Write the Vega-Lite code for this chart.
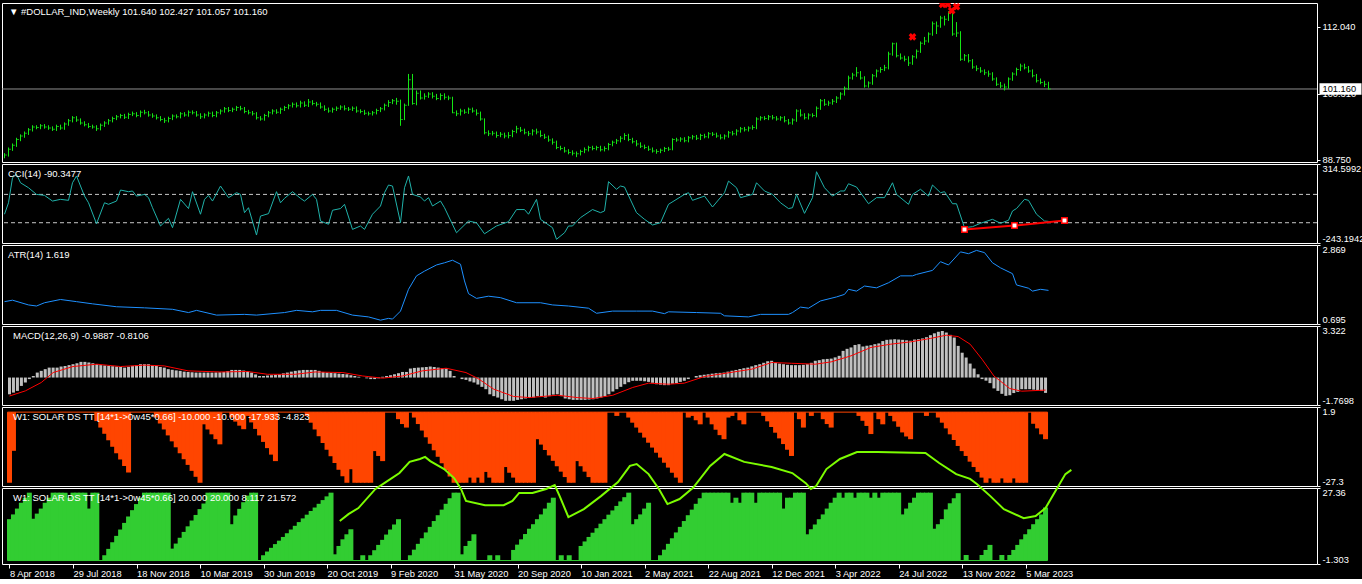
{
  "$schema": "https://vega.github.io/schema/vega-lite/v6.json",
  "background": "#000000",
  "padding": {"left": 1, "top": 2, "right": 0, "bottom": 0},
  "bounds": "flush",
  "spacing": 2,
  "config": {
    "view": {"stroke": "#ffffff", "strokeWidth": 1, "fill": "#000000"},
    "axis": {"domain": false, "grid": false, "labelColor": "#ffffff", "tickColor": "#ffffff", "labelFont": "Liberation Sans", "labelFontSize": 9.3, "tickSize": 3, "labelPadding": 2, "title": null, "labelOverlap": false},
    "text": {"font": "Liberation Sans", "fontSize": 9.5, "color": "#ffffff", "align": "left", "baseline": "middle"}
  },
  "resolve": {"scale": {"y": "independent"}, "axis": {"x": "independent", "y": "independent"}},
  "datasets": {
    "bars": [
      {"w":0,"h":89.9,"l":89.0,"c":89.6,"m":-1.08,"r":-26.1,"g":15.6},
      {"w":1,"h":90.9,"l":89.3,"c":90.6,"m":-0.97,"r":-14.3,"g":17.4},
      {"w":2,"h":91.6,"l":90.3,"c":91.3,"m":-0.86,"r":0,"g":19.6},
      {"w":3,"h":92.6,"l":91.0,"c":92.3,"m":-0.54,"r":0,"g":21.8},
      {"w":4,"h":93.2,"l":92.0,"c":92.9,"m":-0.32,"r":0,"g":23.7},
      {"w":5,"h":93.7,"l":92.6,"c":93.4,"m":-0.1,"r":0,"g":25.6},
      {"w":6,"h":94.3,"l":93.1,"c":94.0,"m":0.1,"r":0,"g":15.8},
      {"w":7,"h":94.8,"l":93.7,"c":94.5,"m":0.32,"r":0,"g":17.7},
      {"w":8,"h":94.8,"l":94.1,"c":94.4,"m":0.43,"r":0,"g":19.6},
      {"w":9,"h":95.0,"l":94.1,"c":94.7,"m":0.54,"r":0,"g":21.8},
      {"w":10,"h":95.0,"l":94.2,"c":94.5,"m":0.64,"r":0,"g":23.7},
      {"w":11,"h":94.8,"l":94.0,"c":94.3,"m":0.64,"r":0,"g":25.6},
      {"w":12,"h":94.6,"l":93.8,"c":94.1,"m":0.64,"r":0,"g":25.6},
      {"w":13,"h":94.9,"l":93.8,"c":94.6,"m":0.71,"r":0,"g":25.6},
      {"w":14,"h":94.9,"l":94.0,"c":94.3,"m":0.75,"r":0,"g":25.6},
      {"w":15,"h":95.3,"l":94.0,"c":95.0,"m":0.8,"r":0,"g":23.7},
      {"w":16,"h":95.9,"l":94.7,"c":95.6,"m":0.86,"r":0,"g":25.6},
      {"w":17,"h":96.4,"l":95.3,"c":96.1,"m":0.92,"r":0,"g":25.6},
      {"w":18,"h":96.4,"l":95.4,"c":95.7,"m":1.01,"r":0,"g":25.6},
      {"w":19,"h":96.0,"l":94.9,"c":95.2,"m":1.01,"r":0,"g":25.6},
      {"w":20,"h":95.5,"l":94.6,"c":94.9,"m":0.97,"r":0,"g":19.6},
      {"w":21,"h":95.2,"l":94.3,"c":94.6,"m":0.92,"r":0,"g":25.6},
      {"w":22,"h":94.9,"l":94.2,"c":94.5,"m":0.86,"r":-3.3,"g":25.6},
      {"w":23,"h":94.8,"l":93.8,"c":94.2,"m":0.8,"r":-5.7,"g":0},
      {"w":24,"h":95.1,"l":93.9,"c":94.8,"m":0.78,"r":-8.0,"g":2.0},
      {"w":25,"h":95.5,"l":94.5,"c":95.2,"m":0.75,"r":-10.4,"g":4.4},
      {"w":26,"h":95.9,"l":94.9,"c":95.6,"m":0.73,"r":-12.8,"g":6.9},
      {"w":27,"h":96.3,"l":95.3,"c":96.0,"m":0.71,"r":-15.2,"g":9.3},
      {"w":28,"h":96.6,"l":95.7,"c":96.3,"m":0.68,"r":-17.5,"g":11.7},
      {"w":29,"h":96.8,"l":96.0,"c":96.5,"m":0.64,"r":-19.9,"g":14.2},
      {"w":30,"h":96.8,"l":95.9,"c":96.2,"m":0.7,"r":-22.3,"g":16.6},
      {"w":31,"h":97.0,"l":95.9,"c":96.7,"m":0.75,"r":0,"g":19.0},
      {"w":32,"h":97.2,"l":96.4,"c":96.8,"m":0.8,"r":0,"g":21.3},
      {"w":33,"h":97.1,"l":96.2,"c":96.5,"m":0.86,"r":0,"g":23.7},
      {"w":34,"h":97.4,"l":96.2,"c":97.1,"m":0.86,"r":0,"g":25.6},
      {"w":35,"h":97.5,"l":96.7,"c":97.0,"m":0.86,"r":0,"g":25.6},
      {"w":36,"h":97.3,"l":96.3,"c":96.6,"m":0.8,"r":0,"g":25.6},
      {"w":37,"h":96.9,"l":96.1,"c":96.4,"m":0.75,"r":-2.0,"g":25.6},
      {"w":38,"h":96.7,"l":95.8,"c":96.1,"m":0.68,"r":-4.2,"g":25.6},
      {"w":39,"h":96.4,"l":95.5,"c":95.8,"m":0.64,"r":-6.4,"g":25.6},
      {"w":40,"h":96.1,"l":95.2,"c":95.6,"m":0.54,"r":-8.6,"g":25.6},
      {"w":41,"h":96.3,"l":95.3,"c":96.0,"m":0.5,"r":-10.8,"g":4.5},
      {"w":42,"h":96.7,"l":95.7,"c":96.4,"m":0.46,"r":-13.0,"g":6.4},
      {"w":43,"h":96.7,"l":96.0,"c":96.3,"m":0.43,"r":-15.2,"g":8.6},
      {"w":44,"h":97.1,"l":96.0,"c":96.8,"m":0.38,"r":-17.4,"g":10.8},
      {"w":45,"h":97.1,"l":96.3,"c":96.6,"m":0.36,"r":-19.5,"g":12.9},
      {"w":46,"h":97.4,"l":96.3,"c":97.1,"m":0.34,"r":-21.7,"g":15.1},
      {"w":47,"h":97.4,"l":96.7,"c":97.0,"m":0.32,"r":-23.9,"g":17.2},
      {"w":48,"h":97.3,"l":96.3,"c":96.6,"m":0.32,"r":-26.1,"g":19.4},
      {"w":49,"h":96.9,"l":95.9,"c":96.3,"m":0.32,"r":-4.5,"g":21.5},
      {"w":50,"h":96.9,"l":96.0,"c":96.6,"m":0.32,"r":-6.4,"g":25.6},
      {"w":51,"h":97.2,"l":96.3,"c":96.9,"m":0.32,"r":-8.2,"g":25.6},
      {"w":52,"h":97.2,"l":96.2,"c":96.5,"m":0.33,"r":-10.0,"g":25.6},
      {"w":53,"h":97.3,"l":96.2,"c":97.0,"m":0.34,"r":-11.9,"g":25.6},
      {"w":54,"h":97.6,"l":96.7,"c":97.3,"m":0.36,"r":0,"g":25.6},
      {"w":55,"h":98.0,"l":97.0,"c":97.7,"m":0.42,"r":0,"g":25.6},
      {"w":56,"h":98.0,"l":97.1,"c":97.4,"m":0.49,"r":-2.0,"g":13.7},
      {"w":57,"h":97.9,"l":97.1,"c":97.6,"m":0.49,"r":-3.5,"g":17.0},
      {"w":58,"h":98.2,"l":97.3,"c":97.9,"m":0.49,"r":-5.0,"g":19.5},
      {"w":59,"h":98.2,"l":97.4,"c":97.7,"m":0.45,"r":-6.3,"g":22.0},
      {"w":60,"h":98.0,"l":96.9,"c":97.2,"m":0.4,"r":-1.4,"g":24.5},
      {"w":61,"h":97.5,"l":96.7,"c":97.0,"m":0.32,"r":-3.8,"g":25.6},
      {"w":62,"h":97.3,"l":96.5,"c":96.8,"m":0.2,"r":-6.2,"g":25.6},
      {"w":63,"h":97.1,"l":95.8,"c":96.1,"m":0.1,"r":-8.6,"g":0},
      {"w":64,"h":96.4,"l":95.6,"c":95.9,"m":0.1,"r":-11.0,"g":2.0},
      {"w":65,"h":96.8,"l":95.6,"c":96.5,"m":0.13,"r":-13.3,"g":3.4},
      {"w":66,"h":97.3,"l":96.2,"c":97.0,"m":0.15,"r":-15.7,"g":4.8},
      {"w":67,"h":97.6,"l":96.7,"c":97.3,"m":0.18,"r":-18.1,"g":6.2},
      {"w":68,"h":97.6,"l":96.8,"c":97.1,"m":0.21,"r":0,"g":7.5},
      {"w":69,"h":97.9,"l":96.8,"c":97.6,"m":0.27,"r":0,"g":8.9},
      {"w":70,"h":98.2,"l":97.3,"c":97.9,"m":0.32,"r":0,"g":10.3},
      {"w":71,"h":98.5,"l":97.6,"c":98.2,"m":0.38,"r":0,"g":11.7},
      {"w":72,"h":98.8,"l":97.9,"c":98.5,"m":0.43,"r":0,"g":13.1},
      {"w":73,"h":98.8,"l":97.9,"c":98.2,"m":0.46,"r":0,"g":14.5},
      {"w":74,"h":99.1,"l":97.9,"c":98.7,"m":0.49,"r":0,"g":15.9},
      {"w":75,"h":99.0,"l":98.0,"c":98.3,"m":0.49,"r":-1.4,"g":17.3},
      {"w":76,"h":99.4,"l":98.0,"c":98.9,"m":0.49,"r":-3.9,"g":18.7},
      {"w":77,"h":99.2,"l":98.3,"c":98.6,"m":0.49,"r":-6.4,"g":20.0},
      {"w":78,"h":98.9,"l":98.1,"c":98.5,"m":0.43,"r":-8.9,"g":21.4},
      {"w":79,"h":98.8,"l":97.7,"c":98.0,"m":0.36,"r":-11.4,"g":22.8},
      {"w":80,"h":98.3,"l":97.3,"c":97.6,"m":0.32,"r":-13.9,"g":24.2},
      {"w":81,"h":97.9,"l":97.0,"c":97.3,"m":0.3,"r":-16.3,"g":25.6},
      {"w":82,"h":97.9,"l":97.0,"c":97.6,"m":0.28,"r":-18.8,"g":2.35},
      {"w":83,"h":98.1,"l":97.3,"c":97.8,"m":0.25,"r":-21.3,"g":5.5},
      {"w":84,"h":98.3,"l":97.5,"c":98.0,"m":0.23,"r":-23.7,"g":8.0},
      {"w":85,"h":98.3,"l":97.4,"c":97.7,"m":0.21,"r":-26.1,"g":9.9},
      {"w":86,"h":98.0,"l":97.3,"c":97.6,"m":0.15,"r":-21.1,"g":11.8},
      {"w":87,"h":98.1,"l":97.3,"c":97.8,"m":0.1,"r":-26.1,"g":0},
      {"w":88,"h":98.1,"l":97.0,"c":97.3,"m":0.05,"r":-26.1,"g":0},
      {"w":89,"h":97.6,"l":96.9,"c":97.2,"m":0,"r":-26.1,"g":2.0},
      {"w":90,"h":97.5,"l":96.6,"c":96.9,"m":-0.05,"r":-26.1,"g":0},
      {"w":91,"h":97.2,"l":96.5,"c":96.8,"m":-0.1,"r":-26.1,"g":2.0},
      {"w":92,"h":97.3,"l":96.5,"c":97.0,"m":-0.1,"r":-14.4,"g":3.9},
      {"w":93,"h":97.7,"l":96.7,"c":97.4,"m":-0.05,"r":-16.2,"g":5.9},
      {"w":94,"h":98.0,"l":97.1,"c":97.7,"m":0.05,"r":-18.1,"g":7.8},
      {"w":95,"h":98.6,"l":97.4,"c":98.3,"m":0.1,"r":0,"g":9.8},
      {"w":96,"h":99.2,"l":98.0,"c":98.8,"m":0.15,"r":0,"g":11.7},
      {"w":97,"h":99.4,"l":98.5,"c":99.1,"m":0.21,"r":0,"g":13.6},
      {"w":98,"h":99.6,"l":98.4,"c":99.0,"m":0.28,"r":-2.6,"g":15.6},
      {"w":99,"h":99.3,"l":94.7,"c":95.8,"m":0.36,"r":-4.4,"g":0},
      {"w":100,"h":98.6,"l":95.7,"c":98.3,"m":0.36,"r":-5.7,"g":0},
      {"w":101,"h":103.8,"l":98.2,"c":102.8,"m":0.58,"r":0,"g":2.0},
      {"w":102,"h":103.8,"l":98.4,"c":98.6,"m":0.62,"r":-2.0,"g":4.1},
      {"w":103,"h":100.9,"l":98.3,"c":100.4,"m":0.64,"r":-4.4,"g":6.3},
      {"w":104,"h":100.9,"l":99.3,"c":99.6,"m":0.66,"r":-6.8,"g":8.4},
      {"w":105,"h":100.4,"l":99.3,"c":99.9,"m":0.68,"r":-9.3,"g":10.6},
      {"w":106,"h":100.6,"l":99.6,"c":100.3,"m":0.71,"r":-11.7,"g":12.7},
      {"w":107,"h":100.6,"l":99.5,"c":99.9,"m":0.68,"r":-14.1,"g":14.9},
      {"w":108,"h":100.3,"l":99.2,"c":99.5,"m":0.64,"r":-16.5,"g":17.1},
      {"w":109,"h":100.4,"l":99.2,"c":100.0,"m":0.6,"r":-18.9,"g":19.2},
      {"w":110,"h":100.4,"l":99.3,"c":99.7,"m":0.58,"r":-21.4,"g":21.4},
      {"w":111,"h":100.0,"l":99.2,"c":99.6,"m":0.43,"r":-23.8,"g":23.5},
      {"w":112,"h":99.8,"l":96.9,"c":97.0,"m":0.1,"r":-26.1,"g":25.6},
      {"w":113,"h":97.4,"l":96.4,"c":96.8,"m":0.0,"r":-26.1,"g":25.6},
      {"w":114,"h":97.7,"l":96.5,"c":97.3,"m":-0.1,"r":-26.1,"g":2.35},
      {"w":115,"h":97.6,"l":96.8,"c":97.1,"m":-0.15,"r":-26.1,"g":5.5},
      {"w":116,"h":97.9,"l":96.8,"c":97.6,"m":-0.25,"r":-24.2,"g":7.4},
      {"w":117,"h":97.9,"l":97.0,"c":97.3,"m":-0.32,"r":-26.1,"g":9.9},
      {"w":118,"h":97.6,"l":96.5,"c":96.9,"m":-0.45,"r":-24.2,"g":0},
      {"w":119,"h":97.2,"l":95.6,"c":95.9,"m":-0.6,"r":-26.1,"g":0},
      {"w":120,"h":96.0,"l":93.2,"c":93.5,"m":-0.75,"r":-22.1,"g":0},
      {"w":121,"h":93.9,"l":92.9,"c":93.3,"m":-1.08,"r":-24.2,"g":2.0},
      {"w":122,"h":93.8,"l":93.0,"c":93.4,"m":-1.2,"r":-26.1,"g":0},
      {"w":123,"h":93.7,"l":92.6,"c":93.0,"m":-1.29,"r":-26.1,"g":2.0},
      {"w":124,"h":93.6,"l":92.7,"c":93.2,"m":-1.4,"r":-26.1,"g":0},
      {"w":125,"h":93.5,"l":92.5,"c":92.9,"m":-1.5,"r":-20.3,"g":0},
      {"w":126,"h":93.6,"l":92.5,"c":93.0,"m":-1.5,"r":-22.4,"g":0},
      {"w":127,"h":94.0,"l":92.7,"c":93.7,"m":-1.5,"r":-24.2,"g":4.0},
      {"w":128,"h":94.7,"l":93.4,"c":94.2,"m":-1.44,"r":-26.1,"g":6.0},
      {"w":129,"h":94.5,"l":93.6,"c":93.9,"m":-1.4,"r":-26.1,"g":8.0},
      {"w":130,"h":94.2,"l":93.2,"c":93.5,"m":-1.35,"r":-26.1,"g":10.0},
      {"w":131,"h":93.8,"l":92.9,"c":93.3,"m":-1.32,"r":-26.1,"g":12.0},
      {"w":132,"h":94.1,"l":93.0,"c":93.8,"m":-1.29,"r":-26.1,"g":13.7},
      {"w":133,"h":94.2,"l":93.2,"c":93.6,"m":-1.2,"r":-10.0,"g":15.6},
      {"w":134,"h":93.9,"l":92.7,"c":93.0,"m":-1.25,"r":-12.0,"g":17.4},
      {"w":135,"h":93.3,"l":92.4,"c":92.7,"m":-1.29,"r":-14.0,"g":19.6},
      {"w":136,"h":93.0,"l":91.9,"c":92.2,"m":-1.2,"r":-16.0,"g":21.8},
      {"w":137,"h":92.5,"l":91.4,"c":91.8,"m":-1.1,"r":-18.0,"g":23.7},
      {"w":138,"h":92.1,"l":90.6,"c":90.9,"m":-1.08,"r":-20.0,"g":0},
      {"w":139,"h":91.2,"l":90.4,"c":90.7,"m":-1.2,"r":-22.0,"g":2.0},
      {"w":140,"h":91.0,"l":90.0,"c":90.3,"m":-1.35,"r":-24.0,"g":0},
      {"w":141,"h":90.6,"l":89.7,"c":90.0,"m":-1.4,"r":-26.1,"g":2.0},
      {"w":142,"h":90.4,"l":89.5,"c":89.9,"m":-1.44,"r":-26.1,"g":0},
      {"w":143,"h":90.2,"l":89.2,"c":89.8,"m":-1.44,"r":-18.1,"g":0},
      {"w":144,"h":90.5,"l":89.5,"c":90.2,"m":-1.44,"r":-20.0,"g":5.5},
      {"w":145,"h":90.9,"l":89.9,"c":90.5,"m":-1.44,"r":-22.0,"g":7.2},
      {"w":146,"h":91.2,"l":90.2,"c":90.9,"m":-1.42,"r":-24.0,"g":8.9},
      {"w":147,"h":91.2,"l":90.4,"c":90.7,"m":-1.4,"r":-26.1,"g":10.5},
      {"w":148,"h":91.2,"l":90.4,"c":90.9,"m":-1.35,"r":-26.1,"g":12.2},
      {"w":149,"h":91.2,"l":90.2,"c":90.5,"m":-1.29,"r":-26.1,"g":13.9},
      {"w":150,"h":91.1,"l":90.2,"c":90.7,"m":-1.2,"r":-26.1,"g":15.6},
      {"w":151,"h":91.7,"l":90.4,"c":91.4,"m":-1.08,"r":0,"g":17.3},
      {"w":152,"h":92.1,"l":91.1,"c":91.8,"m":-0.9,"r":0,"g":18.9},
      {"w":153,"h":92.4,"l":91.5,"c":92.1,"m":-0.75,"r":-1.4,"g":20.6},
      {"w":154,"h":92.9,"l":91.8,"c":92.5,"m":-0.6,"r":0,"g":22.3},
      {"w":155,"h":93.4,"l":92.2,"c":93.0,"m":-0.43,"r":0,"g":23.9},
      {"w":156,"h":93.3,"l":92.0,"c":92.3,"m":-0.3,"r":-2.0,"g":25.6},
      {"w":157,"h":92.6,"l":91.6,"c":91.9,"m":-0.21,"r":-3.9,"g":13.7},
      {"w":158,"h":92.2,"l":91.1,"c":91.5,"m":-0.21,"r":-5.7,"g":15.6},
      {"w":159,"h":91.8,"l":90.8,"c":91.1,"m":-0.21,"r":-7.6,"g":17.4},
      {"w":160,"h":91.4,"l":90.6,"c":90.9,"m":-0.24,"r":-9.4,"g":19.6},
      {"w":161,"h":91.2,"l":90.3,"c":90.6,"m":-0.28,"r":-11.3,"g":21.8},
      {"w":162,"h":90.9,"l":90.0,"c":90.3,"m":-0.34,"r":-13.1,"g":0},
      {"w":163,"h":90.6,"l":89.8,"c":90.2,"m":-0.43,"r":-15.0,"g":0},
      {"w":164,"h":90.7,"l":89.9,"c":90.4,"m":-0.46,"r":-16.8,"g":2.0},
      {"w":165,"h":91.0,"l":90.1,"c":90.7,"m":-0.49,"r":-18.7,"g":4.1},
      {"w":166,"h":91.0,"l":90.3,"c":90.6,"m":-0.49,"r":-20.5,"g":6.3},
      {"w":167,"h":92.5,"l":90.4,"c":92.3,"m":-0.4,"r":-22.4,"g":8.4},
      {"w":168,"h":92.6,"l":91.9,"c":92.2,"m":-0.36,"r":-24.2,"g":10.6},
      {"w":169,"h":92.7,"l":91.9,"c":92.4,"m":-0.28,"r":-26.1,"g":12.7},
      {"w":170,"h":92.7,"l":91.8,"c":92.1,"m":-0.21,"r":0,"g":14.9},
      {"w":171,"h":92.9,"l":91.8,"c":92.6,"m":-0.1,"r":-2.0,"g":17.1},
      {"w":172,"h":93.1,"l":92.3,"c":92.8,"m":0,"r":-1.4,"g":19.2},
      {"w":173,"h":93.1,"l":92.2,"c":92.5,"m":0.1,"r":-3.0,"g":21.4},
      {"w":174,"h":93.3,"l":92.2,"c":93.0,"m":0.15,"r":-4.5,"g":23.5},
      {"w":175,"h":93.3,"l":92.5,"c":92.8,"m":0.18,"r":0,"g":25.6},
      {"w":176,"h":93.6,"l":92.5,"c":93.3,"m":0.21,"r":-2.0,"g":25.6},
      {"w":177,"h":93.6,"l":92.9,"c":93.2,"m":0.25,"r":-4.5,"g":25.6},
      {"w":178,"h":93.5,"l":92.6,"c":92.9,"m":0.28,"r":-6.5,"g":25.6},
      {"w":179,"h":93.2,"l":92.3,"c":92.6,"m":0.3,"r":-8.5,"g":25.6},
      {"w":180,"h":93.2,"l":92.3,"c":92.9,"m":0.32,"r":-10.0,"g":25.6},
      {"w":181,"h":93.8,"l":92.6,"c":93.5,"m":0.38,"r":-2.0,"g":25.6},
      {"w":182,"h":93.8,"l":93.0,"c":93.3,"m":0.44,"r":-1.4,"g":21.8},
      {"w":183,"h":94.1,"l":93.0,"c":93.8,"m":0.49,"r":0,"g":23.7},
      {"w":184,"h":94.5,"l":93.5,"c":94.2,"m":0.55,"r":-3.0,"g":21.8},
      {"w":185,"h":94.5,"l":93.7,"c":94.0,"m":0.6,"r":-4.5,"g":25.6},
      {"w":186,"h":94.6,"l":93.7,"c":94.3,"m":0.64,"r":0,"g":25.6},
      {"w":187,"h":94.8,"l":94.0,"c":94.4,"m":0.72,"r":0,"g":25.6},
      {"w":188,"h":96.2,"l":94.1,"c":95.9,"m":0.8,"r":0,"g":21.8},
      {"w":189,"h":96.4,"l":95.6,"c":96.1,"m":0.86,"r":0,"g":25.6},
      {"w":190,"h":96.4,"l":95.7,"c":96.0,"m":0.95,"r":-1.4,"g":25.6},
      {"w":191,"h":96.6,"l":95.7,"c":96.3,"m":1.05,"r":-3.4,"g":25.6},
      {"w":192,"h":96.6,"l":95.8,"c":96.1,"m":1.08,"r":-5.5,"g":25.6},
      {"w":193,"h":96.4,"l":95.6,"c":95.9,"m":0.97,"r":-7.6,"g":25.6},
      {"w":194,"h":96.4,"l":95.6,"c":96.1,"m":0.9,"r":-9.7,"g":25.6},
      {"w":195,"h":96.4,"l":95.3,"c":95.6,"m":0.86,"r":-11.8,"g":19.6},
      {"w":196,"h":95.9,"l":94.9,"c":95.2,"m":0.82,"r":-13.9,"g":23.7},
      {"w":197,"h":96.0,"l":94.9,"c":95.7,"m":0.8,"r":-16.2,"g":23.7},
      {"w":198,"h":97.6,"l":95.4,"c":97.3,"m":0.8,"r":0,"g":25.6},
      {"w":199,"h":97.6,"l":96.3,"c":96.6,"m":0.8,"r":-2.6,"g":25.6},
      {"w":200,"h":96.9,"l":95.8,"c":96.1,"m":0.82,"r":-5.7,"g":25.6},
      {"w":201,"h":96.9,"l":95.8,"c":96.6,"m":0.86,"r":0,"g":9.9},
      {"w":202,"h":96.9,"l":96.2,"c":96.5,"m":0.95,"r":-1.4,"g":11.8},
      {"w":203,"h":98.1,"l":96.2,"c":97.8,"m":1.08,"r":0,"g":13.6},
      {"w":204,"h":99.4,"l":97.5,"c":99.1,"m":1.12,"r":0,"g":15.6},
      {"w":205,"h":99.4,"l":98.2,"c":98.5,"m":1.18,"r":-2.6,"g":17.4},
      {"w":206,"h":99.1,"l":98.2,"c":98.7,"m":1.2,"r":-4.4,"g":19.6},
      {"w":207,"h":99.4,"l":98.4,"c":99.0,"m":1.22,"r":-5.7,"g":21.8},
      {"w":208,"h":99.9,"l":98.7,"c":99.6,"m":1.3,"r":0,"g":23.7},
      {"w":209,"h":100.6,"l":99.3,"c":100.3,"m":1.4,"r":0,"g":25.6},
      {"w":210,"h":101.6,"l":100.0,"c":101.3,"m":1.72,"r":0,"g":23.7},
      {"w":211,"h":103.5,"l":101.0,"c":103.1,"m":1.85,"r":0,"g":25.6},
      {"w":212,"h":104.0,"l":102.8,"c":103.6,"m":1.94,"r":0,"g":25.6},
      {"w":213,"h":105.0,"l":103.3,"c":104.0,"m":2.1,"r":0,"g":23.7},
      {"w":214,"h":104.3,"l":102.8,"c":103.1,"m":2.15,"r":-1.4,"g":25.6},
      {"w":215,"h":103.4,"l":101.4,"c":101.7,"m":2.0,"r":-3.2,"g":25.6},
      {"w":216,"h":102.5,"l":101.4,"c":102.2,"m":2.05,"r":-5.1,"g":25.6},
      {"w":217,"h":103.8,"l":101.9,"c":103.5,"m":2.08,"r":-8.1,"g":23.7},
      {"w":218,"h":104.6,"l":103.2,"c":104.3,"m":2.15,"r":0,"g":25.6},
      {"w":219,"h":105.0,"l":104.0,"c":104.6,"m":2.2,"r":-2.6,"g":23.7},
      {"w":220,"h":105.4,"l":104.3,"c":104.9,"m":2.35,"r":-4.5,"g":25.6},
      {"w":221,"h":107.7,"l":104.6,"c":107.3,"m":2.43,"r":0,"g":25.6},
      {"w":222,"h":109.3,"l":107.0,"c":109.1,"m":2.45,"r":-1.4,"g":25.6},
      {"w":223,"h":109.3,"l":106.7,"c":107.0,"m":2.47,"r":-3.4,"g":25.6},
      {"w":224,"h":107.4,"l":106.3,"c":106.6,"m":2.45,"r":-5.4,"g":25.6},
      {"w":225,"h":107.0,"l":106.0,"c":106.4,"m":2.43,"r":-7.5,"g":17.4},
      {"w":226,"h":106.9,"l":105.2,"c":105.7,"m":2.4,"r":-9.0,"g":19.6},
      {"w":227,"h":107.1,"l":105.4,"c":106.8,"m":2.37,"r":-10.0,"g":21.8},
      {"w":228,"h":108.1,"l":106.5,"c":107.8,"m":2.45,"r":0,"g":23.7},
      {"w":229,"h":109.5,"l":107.5,"c":109.2,"m":2.47,"r":0,"g":25.6},
      {"w":230,"h":110.3,"l":108.9,"c":109.6,"m":2.52,"r":0,"g":25.6},
      {"w":231,"h":111.1,"l":109.3,"c":110.8,"m":2.6,"r":-1.4,"g":25.6},
      {"w":232,"h":113.0,"l":110.5,"c":112.6,"m":2.73,"r":0,"g":25.6},
      {"w":233,"h":113.0,"l":110.8,"c":112.2,"m":2.85,"r":0,"g":12.0},
      {"w":234,"h":114.0,"l":111.9,"c":113.6,"m":2.95,"r":-2.0,"g":13.7},
      {"w":235,"h":114.0,"l":112.3,"c":113.4,"m":3.0,"r":-3.9,"g":15.6},
      {"w":236,"h":114.8,"l":113.1,"c":114.5,"m":2.9,"r":-6.0,"g":19.3},
      {"w":237,"h":114.6,"l":110.5,"c":110.8,"m":2.75,"r":-8.2,"g":21.6},
      {"w":238,"h":112.9,"l":110.3,"c":111.0,"m":2.58,"r":-10.3,"g":23.5},
      {"w":239,"h":111.3,"l":106.1,"c":106.4,"m":2.04,"r":-12.5,"g":25.4},
      {"w":240,"h":107.3,"l":106.1,"c":107.0,"m":1.6,"r":-14.4,"g":0},
      {"w":241,"h":107.3,"l":105.8,"c":106.1,"m":1.29,"r":-16.2,"g":2.1},
      {"w":242,"h":106.4,"l":104.7,"c":105.0,"m":0.9,"r":-18.3,"g":0},
      {"w":243,"h":105.3,"l":104.3,"c":104.7,"m":0.58,"r":-20.3,"g":0},
      {"w":244,"h":105.0,"l":104.0,"c":104.3,"m":0.21,"r":-22.1,"g":0},
      {"w":245,"h":104.6,"l":103.6,"c":104.0,"m":-0.1,"r":-24.2,"g":2.1},
      {"w":246,"h":104.4,"l":103.3,"c":103.8,"m":-0.2,"r":-26.1,"g":4.0},
      {"w":247,"h":104.1,"l":102.6,"c":102.9,"m":-0.36,"r":-24.5,"g":5.9},
      {"w":248,"h":103.2,"l":101.7,"c":102.0,"m":-0.7,"r":-26.1,"g":0},
      {"w":249,"h":102.4,"l":101.3,"c":101.7,"m":-0.86,"r":-26.1,"g":0},
      {"w":250,"h":102.1,"l":100.9,"c":101.5,"m":-1.05,"r":-24.5,"g":2.1},
      {"w":251,"h":103.2,"l":101.2,"c":102.9,"m":-1.18,"r":-26.1,"g":0},
      {"w":252,"h":104.1,"l":102.6,"c":103.8,"m":-1.14,"r":-26.1,"g":2.1},
      {"w":253,"h":104.9,"l":103.5,"c":104.6,"m":-1.0,"r":-24.5,"g":4.0},
      {"w":254,"h":105.6,"l":104.3,"c":105.2,"m":-0.92,"r":-26.1,"g":5.9},
      {"w":255,"h":105.6,"l":104.6,"c":104.9,"m":-0.75,"r":-26.1,"g":8.0},
      {"w":256,"h":105.2,"l":104.0,"c":104.3,"m":-0.75,"r":-26.1,"g":9.9},
      {"w":257,"h":104.6,"l":103.2,"c":103.5,"m":-0.75,"r":0,"g":11.8},
      {"w":258,"h":103.8,"l":102.3,"c":102.6,"m":-0.78,"r":-4.3,"g":13.7},
      {"w":259,"h":103.0,"l":102.0,"c":102.3,"m":-0.8,"r":-6.0,"g":15.6},
      {"w":260,"h":102.6,"l":101.5,"c":102.0,"m":-0.87,"r":-8.2,"g":17.4},
      {"w":261,"h":102.43,"l":101.06,"c":101.16,"m":-0.99,"r":-10.0,"g":20.0}
    ],
    "cci": [
      {"w":0,"v":-40},{"w":1,"v":41},{"w":2,"v":218},{"w":3,"v":242},{"w":4,"v":182},{"w":6,"v":147},{"w":8,"v":100},{"w":10,"v":93},{"w":12,"v":53},{"w":14,"v":65},{"w":16,"v":58},{"w":17,"v":182},{"w":18,"v":230},{"w":20,"v":88},{"w":21,"v":41},{"w":23,"v":-107},{"w":25,"v":41},{"w":26,"v":30},{"w":28,"v":53},{"w":29,"v":131},{"w":31,"v":119},{"w":32,"v":124},{"w":33,"v":88},{"w":35,"v":100},{"w":36,"v":77},{"w":37,"v":6},{"w":39,"v":-123},{"w":41,"v":-69},{"w":42,"v":-135},{"w":44,"v":65},{"w":46,"v":0},{"w":47,"v":119},{"w":49,"v":-40},{"w":50,"v":65},{"w":51,"v":93},{"w":52,"v":53},{"w":54,"v":159},{"w":56,"v":77},{"w":58,"v":112},{"w":59,"v":100},{"w":60,"v":-29},{"w":61,"v":6},{"w":63,"v":-187},{"w":64,"v":-53},{"w":66,"v":-36},{"w":68,"v":119},{"w":69,"v":41},{"w":70,"v":72},{"w":72,"v":119},{"w":74,"v":72},{"w":75,"v":53},{"w":77,"v":100},{"w":78,"v":65},{"w":79,"v":-88},{"w":81,"v":-111},{"w":82,"v":-12},{"w":84,"v":0},{"w":85,"v":30},{"w":87,"v":-147},{"w":89,"v":-123},{"w":90,"v":-147},{"w":92,"v":-40},{"w":94,"v":18},{"w":95,"v":112},{"w":96,"v":166},{"w":97,"v":159},{"w":99,"v":-100},{"w":100,"v":147},{"w":101,"v":230},{"w":102,"v":100},{"w":104,"v":82},{"w":105,"v":53},{"w":106,"v":77},{"w":107,"v":18},{"w":109,"v":53},{"w":110,"v":6},{"w":113,"v":-171},{"w":116,"v":-88},{"w":118,"v":-100},{"w":120,"v":-178},{"w":123,"v":-123},{"w":126,"v":-93},{"w":128,"v":-7},{"w":130,"v":-7},{"w":131,"v":-40},{"w":133,"v":65},{"w":134,"v":-76},{"w":137,"v":-135},{"w":138,"v":-217},{"w":140,"v":-171},{"w":141,"v":-123},{"w":142,"v":-123},{"w":144,"v":-64},{"w":147,"v":-7},{"w":149,"v":-29},{"w":150,"v":-17},{"w":151,"v":190},{"w":153,"v":136},{"w":154,"v":159},{"w":155,"v":152},{"w":158,"v":-29},{"w":160,"v":-76},{"w":162,"v":-116},{"w":164,"v":-100},{"w":166,"v":30},{"w":170,"v":100},{"w":171,"v":112},{"w":172,"v":58},{"w":175,"v":88},{"w":177,"v":11},{"w":180,"v":112},{"w":181,"v":194},{"w":183,"v":147},{"w":184,"v":77},{"w":187,"v":100},{"w":188,"v":182},{"w":190,"v":124},{"w":192,"v":100},{"w":194,"v":41},{"w":196,"v":0},{"w":197,"v":6},{"w":198,"v":100},{"w":200,"v":-34},{"w":202,"v":77},{"w":203,"v":260},{"w":205,"v":147},{"w":207,"v":88},{"w":209,"v":124},{"w":210,"v":124},{"w":211,"v":175},{"w":213,"v":152},{"w":216,"v":34},{"w":218,"v":77},{"w":220,"v":77},{"w":222,"v":182},{"w":223,"v":100},{"w":226,"v":30},{"w":227,"v":100},{"w":229,"v":136},{"w":231,"v":88},{"w":232,"v":166},{"w":234,"v":112},{"w":235,"v":119},{"w":237,"v":34},{"w":238,"v":34},{"w":240,"v":-135},{"w":242,"v":-128},{"w":244,"v":-104},{"w":247,"v":-76},{"w":249,"v":-104},{"w":251,"v":-83},{"w":252,"v":-17},{"w":253,"v":0},{"w":255,"v":65},{"w":256,"v":58},{"w":258,"v":-40},{"w":260,"v":-88},{"w":261,"v":-90.35}
    ],
    "lvl": [{"v":100},{"v":-100}],
    "tl": [{"w":240,"v":-148},{"w":252.5,"v":-120},{"w":265,"v":-85}],
    "atr": [
      {"w":0,"v":1.31},{"w":2,"v":1.35},{"w":6,"v":1.22},{"w":8,"v":1.19},{"w":10,"v":1.28},{"w":14,"v":1.37},{"w":18,"v":1.31},{"w":22,"v":1.25},{"w":28,"v":1.17},{"w":35,"v":1.14},{"w":42,"v":1.10},{"w":46,"v":1.01},{"w":48,"v":1.07},{"w":53,"v":0.94},{"w":60,"v":0.96},{"w":63,"v":0.94},{"w":70,"v":1.01},{"w":73,"v":1.07},{"w":77,"v":1.03},{"w":79,"v":1.07},{"w":83,"v":1.07},{"w":87,"v":0.94},{"w":91,"v":0.89},{"w":94,"v":0.80},{"w":96,"v":0.85},{"w":97,"v":0.83},{"w":99,"v":1.05},{"w":101,"v":1.65},{"w":103,"v":2.02},{"w":105,"v":2.15},{"w":108,"v":2.32},{"w":110,"v":2.38},{"w":112,"v":2.45},{"w":114,"v":2.34},{"w":115,"v":1.88},{"w":116,"v":1.53},{"w":118,"v":1.40},{"w":121,"v":1.46},{"w":124,"v":1.42},{"w":128,"v":1.28},{"w":134,"v":1.28},{"w":137,"v":1.22},{"w":141,"v":1.19},{"w":146,"v":1.13},{"w":148,"v":0.99},{"w":152,"v":1.05},{"w":158,"v":1.05},{"w":162,"v":1.05},{"w":165,"v":0.98},{"w":166,"v":1.03},{"w":173,"v":1.01},{"w":179,"v":0.99},{"w":180,"v":0.92},{"w":186,"v":0.89},{"w":189,"v":0.96},{"w":196,"v":0.96},{"w":197,"v":1.01},{"w":199,"v":1.16},{"w":201,"v":1.13},{"w":204,"v":1.33},{"w":208,"v":1.44},{"w":210,"v":1.51},{"w":211,"v":1.65},{"w":213,"v":1.60},{"w":215,"v":1.74},{"w":218,"v":1.69},{"w":221,"v":1.83},{"w":224,"v":2.02},{"w":227,"v":2.02},{"w":228,"v":2.06},{"w":232,"v":2.17},{"w":234,"v":2.41},{"w":236,"v":2.32},{"w":239,"v":2.68},{"w":241,"v":2.63},{"w":243,"v":2.72},{"w":245,"v":2.66},{"w":247,"v":2.38},{"w":249,"v":2.24},{"w":252,"v":2.08},{"w":253,"v":1.77},{"w":256,"v":1.68},{"w":257,"v":1.60},{"w":259,"v":1.65},{"w":261,"v":1.62}
    ],
    "sig": [
      {"w":0,"v":-1.19},{"w":4,"v":-0.86},{"w":8,"v":-0.32},{"w":11,"v":0.32},{"w":16,"v":0.71},{"w":22,"v":0.86},{"w":28,"v":0.71},{"w":34,"v":0.8},{"w":39,"v":0.75},{"w":45,"v":0.43},{"w":53,"v":0.36},{"w":60,"v":0.39},{"w":65,"v":0.21},{"w":72,"v":0.21},{"w":77,"v":0.36},{"w":84,"v":0.32},{"w":89,"v":0.1},{"w":94,"v":-0.04},{"w":99,"v":0.1},{"w":104,"v":0.43},{"w":110,"v":0.6},{"w":115,"v":0.32},{"w":118,"v":-0.06},{"w":122,"v":-0.75},{"w":127,"v":-1.22},{"w":131,"v":-1.29},{"w":138,"v":-1.14},{"w":143,"v":-1.29},{"w":147,"v":-1.35},{"w":152,"v":-1.14},{"w":157,"v":-0.64},{"w":161,"v":-0.36},{"w":166,"v":-0.43},{"w":170,"v":-0.36},{"w":175,"v":0.06},{"w":180,"v":0.26},{"w":187,"v":0.54},{"w":192,"v":0.97},{"w":197,"v":0.92},{"w":203,"v":0.86},{"w":207,"v":1.01},{"w":212,"v":1.4},{"w":217,"v":1.94},{"w":222,"v":2.15},{"w":227,"v":2.3},{"w":232,"v":2.52},{"w":236,"v":2.73},{"w":239,"v":2.64},{"w":242,"v":2.15},{"w":245,"v":1.18},{"w":248,"v":0.1},{"w":252,"v":-0.71},{"w":255,"v":-0.88},{"w":261,"v":-0.81}
    ],
    "lime": [
      {"w":83.2,"v":14.9},{"w":85.4,"v":17.5},{"w":87.9,"v":19.8},{"w":92.2,"v":27.0},{"w":94.8,"v":29.6},{"w":98.25,"v":33.0},{"w":100.8,"v":37.2},{"w":103.4,"v":38.3},{"w":104.7,"v":39.1},{"w":106,"v":37.5},{"w":109.5,"v":34.5},{"w":112,"v":31.1},{"w":113.75,"v":27.0},{"w":115,"v":22.5},{"w":119.8,"v":20.9},{"w":124.5,"v":20.9},{"w":126.7,"v":22.5},{"w":128.4,"v":25.5},{"w":131.75,"v":25.5},{"w":135.2,"v":27.0},{"w":137.35,"v":28.5},{"w":138.6,"v":24.3},{"w":140.8,"v":16.4},{"w":144.7,"v":19.4},{"w":149,"v":24.3},{"w":153.3,"v":29.6},{"w":156.3,"v":35.7},{"w":158,"v":36.4},{"w":161,"v":32.6},{"w":163.6,"v":27.0},{"w":165.75,"v":21.3},{"w":168.8,"v":23.2},{"w":172.2,"v":27.4},{"w":176.5,"v":35.7},{"w":180.1,"v":40.2},{"w":185.1,"v":37.2},{"w":192,"v":35.3},{"w":197.2,"v":33.0},{"w":200.6,"v":29.2},{"w":201.9,"v":27.0},{"w":203.2,"v":28.1},{"w":205.8,"v":34.5},{"w":209.2,"v":38.3},{"w":213.5,"v":40.9},{"w":218.7,"v":40.9},{"w":230.75,"v":40.6},{"w":234.2,"v":36.8},{"w":238.5,"v":32.6},{"w":242,"v":30.8},{"w":243.7,"v":28.9},{"w":247.1,"v":24.3},{"w":250.5,"v":19.4},{"w":255.5,"v":16.0},{"w":258.5,"v":16.8},{"w":261,"v":19.8},{"w":263.5,"v":26.2},{"w":266,"v":32.6},{"w":267.5,"v":34.2}
    ],
    "xs": [{"w":227,"p":110.3},{"w":234.5,"p":116.0},{"w":235.8,"p":116.0},{"w":236.8,"p":114.9},{"w":238,"p":115.6}],
    "cur": [{"w":328.75,"p":101.16,"t":"101.160"}],
    "zl": [{"a":-0.5,"b":261.5,"z":0}],
    "t1": [{"t":"▼  #DOLLAR_IND,Weekly  101.640 102.427 101.057 101.160"}],
    "t2": [{"t":"CCI(14) -90.3477"}],
    "t3": [{"t":"ATR(14) 1.619"}],
    "t4": [{"t":"MACD(12,26,9) -0.9887 -0.8106"}],
    "t5": [{"t":"W1: SOLAR DS TT [14*1->0w45*0.66] -10.000 -10.000 -17.933 -4.823"}],
    "t6": [{"t":"W1: SOLAR DS TT [14*1->0w45*0.66] 20.000 20.000 8.117 21.572"}]
  },
  "vconcat": [
    {
      "width": 1315, "height": 159,
      "layer": [
        {"data": {"name": "cur"}, "mark": {"type": "rule", "color": "#8f8f8f", "strokeWidth": 1},
         "encoding": {"y": {"field": "p", "type": "quantitative", "scale": {"domain": [88.35, 116.25], "nice": false, "zero": false}, "axis": {"orient": "right", "values": [112.04, 106.09, 100.31, 94.53, 88.75], "format": ".3f"}}}},
        {"data": {"name": "bars"}, "mark": {"type": "rule", "color": "#14e614", "strokeWidth": 1},
         "encoding": {"x": {"field": "w", "type": "quantitative", "scale": {"domain": [-0.625, 328.125], "nice": false, "zero": false}, "axis": null},
                      "y": {"field": "l", "type": "quantitative"}, "y2": {"field": "h"}}},
        {"data": {"name": "bars"}, "mark": {"type": "tick", "orient": "horizontal", "size": 2, "thickness": 1, "xOffset": 1.5, "color": "#14e614"},
         "encoding": {"x": {"field": "w", "type": "quantitative", "axis": null}, "y": {"field": "c", "type": "quantitative"}}},
        {"data": {"name": "xs"}, "mark": {"type": "point", "shape": "cross", "angle": 45, "size": 60, "filled": true, "color": "#ff0000", "opacity": 1, "clip": true},
         "encoding": {"x": {"field": "w", "type": "quantitative", "axis": null}, "y": {"field": "p", "type": "quantitative"}}},
        {"data": {"name": "cur"}, "mark": {"type": "point", "shape": "M0,-0.27L2,-0.27L2,0.27L0,0.27Z", "size": 1764, "filled": true, "color": "#ffffff", "opacity": 1},
         "encoding": {"x": {"field": "w", "type": "quantitative", "axis": null}, "y": {"field": "p", "type": "quantitative"}}},
        {"data": {"name": "cur"}, "mark": {"type": "text", "dx": 3, "fontSize": 9.3, "color": "#000000"},
         "encoding": {"x": {"field": "w", "type": "quantitative", "axis": null}, "y": {"field": "p", "type": "quantitative"}, "text": {"field": "t"}}},
        {"data": {"name": "t1"}, "mark": {"type": "text", "dx": 7, "dy": 9},
         "encoding": {"x": {"datum": -0.625}, "y": {"datum": 116.25}, "text": {"field": "t"}}}
      ]
    },
    {
      "width": 1315, "height": 79,
      "layer": [
        {"data": {"name": "lvl"}, "mark": {"type": "rule", "color": "#c8c8c8", "strokeDash": [4, 3], "strokeWidth": 1},
         "encoding": {"y": {"field": "v", "type": "quantitative", "scale": {"domain": [-243.1942, 314.5992], "nice": false, "zero": false},
                            "axis": {"orient": "right", "values": [314.5992, 100, 0, -100, -243.1942], "labelExpr": "datum.value == 0 ? '0.00' : toString(datum.value)", "labelFlush": true}}}},
        {"data": {"name": "cci"}, "mark": {"type": "line", "color": "#20b2aa", "strokeWidth": 1},
         "encoding": {"x": {"field": "w", "type": "quantitative", "scale": {"domain": [-0.625, 328.125], "nice": false, "zero": false}, "axis": null}, "y": {"field": "v", "type": "quantitative"}}},
        {"data": {"name": "tl"}, "mark": {"type": "line", "color": "#ff0000", "strokeWidth": 2},
         "encoding": {"x": {"field": "w", "type": "quantitative", "axis": null}, "y": {"field": "v", "type": "quantitative"}}},
        {"data": {"name": "tl"}, "mark": {"type": "point", "shape": "square", "size": 30, "filled": true, "fill": "#ffffff", "stroke": "#ff0000", "strokeWidth": 1.5, "opacity": 1},
         "encoding": {"x": {"field": "w", "type": "quantitative", "axis": null}, "y": {"field": "v", "type": "quantitative"}}},
        {"data": {"name": "t2"}, "mark": {"type": "text", "dx": 6, "dy": 10},
         "encoding": {"x": {"datum": -0.625}, "y": {"datum": 314.5992}, "text": {"field": "t"}}}
      ]
    },
    {
      "width": 1315, "height": 79,
      "layer": [
        {"data": {"name": "atr"}, "mark": {"type": "line", "color": "#1e90ff", "strokeWidth": 1},
         "encoding": {"x": {"field": "w", "type": "quantitative", "scale": {"domain": [-0.625, 328.125], "nice": false, "zero": false}, "axis": null},
                      "y": {"field": "v", "type": "quantitative", "scale": {"domain": [0.695, 2.869], "nice": false, "zero": false},
                            "axis": {"orient": "right", "values": [2.869, 0.695], "format": ".3f", "labelFlush": true}}}},
        {"data": {"name": "t3"}, "mark": {"type": "text", "dx": 6, "dy": 10},
         "encoding": {"x": {"datum": -0.625}, "y": {"datum": 2.869}, "text": {"field": "t"}}}
      ]
    },
    {
      "width": 1315, "height": 79,
      "layer": [
        {"data": {"name": "bars"}, "mark": {"type": "bar", "width": 3, "color": "#c0c0c0"},
         "encoding": {"x": {"field": "w", "type": "quantitative", "scale": {"domain": [-0.625, 328.125], "nice": false, "zero": false}, "axis": null},
                      "y": {"field": "m", "type": "quantitative", "scale": {"domain": [-1.7698, 3.322], "nice": false, "zero": false},
                            "axis": {"orient": "right", "values": [3.322, 0, -1.7698], "labelExpr": "datum.value == 0 ? '0.00' : toString(datum.value)", "labelFlush": true}},
                      "y2": {"datum": 0}}},
        {"data": {"name": "sig"}, "mark": {"type": "line", "color": "#ff0000", "strokeWidth": 1},
         "encoding": {"x": {"field": "w", "type": "quantitative", "axis": null}, "y": {"field": "v", "type": "quantitative"}}},
        {"data": {"name": "t4"}, "mark": {"type": "text", "dx": 6, "dy": 10},
         "encoding": {"x": {"datum": -0.625}, "y": {"datum": 3.322}, "text": {"field": "t"}}}
      ]
    },
    {
      "width": 1315, "height": 79,
      "layer": [
        {"data": {"name": "zl"}, "mark": {"type": "rule", "color": "#ff4500", "strokeWidth": 1},
         "encoding": {"x": {"field": "a", "type": "quantitative", "scale": {"domain": [-0.625, 328.125], "nice": false, "zero": false}, "axis": null}, "x2": {"field": "b"},
                      "y": {"field": "z", "type": "quantitative", "scale": {"domain": [-27.3, 1.9], "nice": false, "zero": false},
                            "axis": {"orient": "right", "values": [1.9, 0, -27.3], "labelExpr": "datum.value == 0 ? '0.00' : toString(datum.value)", "labelFlush": true}}}},
        {"data": {"name": "bars"}, "mark": {"type": "bar", "width": 5, "color": "#ff4500"},
         "encoding": {"x": {"field": "w", "type": "quantitative", "axis": null}, "y": {"field": "r", "type": "quantitative"}, "y2": {"datum": 0}}},
        {"data": {"name": "t5"}, "mark": {"type": "text", "dx": 6, "dy": 10},
         "encoding": {"x": {"datum": -0.625}, "y": {"datum": 1.9}, "text": {"field": "t"}}}
      ]
    },
    {
      "width": 1315, "height": 76,
      "layer": [
        {"data": {"name": "zl"}, "mark": {"type": "rule", "color": "#32cd32", "strokeWidth": 1},
         "encoding": {"x": {"field": "a", "type": "quantitative", "scale": {"domain": [-0.625, 328.125], "nice": false, "zero": false},
                            "axis": {"orient": "bottom", "values": [0,16,32,48,64,80,96,112,128,144,160,176,192,208,224,240,256],
                                     "labelExpr": "['8 Apr 2018','29 Jul 2018','18 Nov 2018','10 Mar 2019','30 Jun 2019','20 Oct 2019','9 Feb 2020','31 May 2020','20 Sep 2020','10 Jan 2021','2 May 2021','22 Aug 2021','12 Dec 2021','3 Apr 2022','24 Jul 2022','13 Nov 2022','5 Mar 2023'][round(datum.value/16)]",
                                     "labelAlign": "left", "labelBaseline": "top", "tickSize": 4, "labelPadding": 1}},
                      "x2": {"field": "b"},
                      "y": {"field": "z", "type": "quantitative", "scale": {"domain": [-1.303, 27.36], "nice": false, "zero": false},
                            "axis": {"orient": "right", "values": [27.36, 0, -1.303], "labelExpr": "datum.value == 0 ? '0.00' : toString(datum.value)", "labelFlush": true}}}},
        {"data": {"name": "bars"}, "mark": {"type": "bar", "width": 5, "color": "#32cd32"},
         "encoding": {"x": {"field": "w", "type": "quantitative"}, "y": {"field": "g", "type": "quantitative"}, "y2": {"datum": 0}}},
        {"data": {"name": "lime"}, "mark": {"type": "line", "color": "#7cfc00", "strokeWidth": 2},
         "encoding": {"x": {"field": "w", "type": "quantitative"}, "y": {"field": "v", "type": "quantitative"}}},
        {"data": {"name": "t6"}, "mark": {"type": "text", "dx": 6, "dy": 10},
         "encoding": {"x": {"datum": -0.625}, "y": {"datum": 27.36}, "text": {"field": "t"}}}
      ]
    }
  ]
}
